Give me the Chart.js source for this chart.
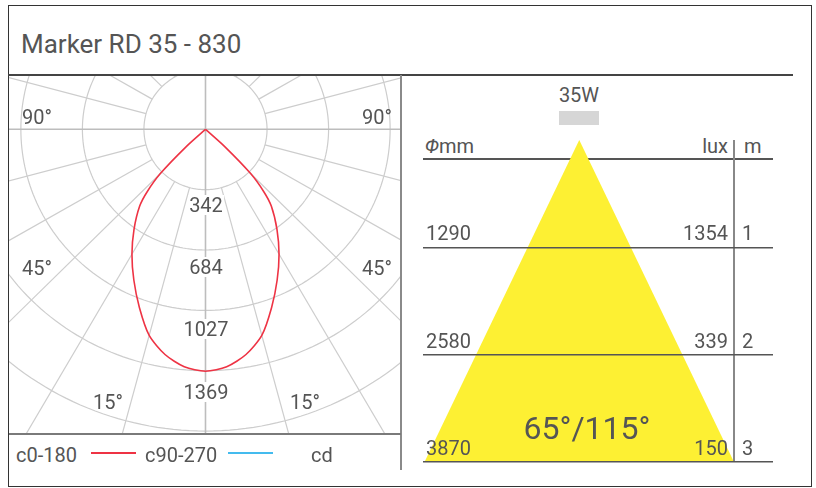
<!DOCTYPE html>
<html>
<head>
<meta charset="utf-8">
<script src="https://cdn.jsdelivr.net/npm/chart.js@4.4.1/dist/chart.umd.min.js"></script>
<style>
body { margin:0; width:816px; height:488px; background:#fff; position:relative; overflow:hidden;
  font-family:Roboto,'Liberation Sans',sans-serif; color:#555; }
.frame { position:absolute; left:8px; top:5px; width:804px; height:482px; border:1.5px solid #333; box-sizing:border-box; }
.t { position:absolute; white-space:nowrap; line-height:1; font-size:20px; transform:translateY(-50%); }
.c { transform:translate(-50%,-50%); }
.bg { background:#fff; padding:0 1px; }
.ln { position:absolute; }
canvas { position:absolute; }
</style>
</head>
<body>
<div class="frame"></div>

<!-- title + panel lines -->
<div class="t" style="left:21px;top:44px;font-size:26px;">Marker RD 35 - 830</div>
<div class="ln" style="left:8px;top:74px;width:785px;height:2px;background:#444;"></div>

<canvas id="polar" width="392" height="358" style="left:9px;top:76px;"></canvas>
<div class="ln" style="left:400px;top:75px;width:2px;height:395px;background:#8a8a8a;"></div>
<div class="ln" style="left:9px;top:433px;width:392px;height:2px;background:#7a7a7a;"></div>

<!-- polar labels -->
<div class="t" style="left:22px;top:117px;">90°</div>
<div class="t" style="right:424px;top:117px;">90°</div>
<div class="t" style="left:22px;top:268px;">45°</div>
<div class="t" style="right:424px;top:268px;">45°</div>
<div class="t" style="left:93px;top:402px;">15°</div>
<div class="t" style="left:290px;top:402px;">15°</div>
<div id="cdLabels"></div>

<!-- legend -->
<div class="t" style="left:16px;top:455px;">c0-180</div>
<div class="ln" style="left:91px;top:452px;width:45px;height:1.5px;background:#ee3344;"></div>
<div class="t" style="left:145px;top:455px;">c90-270</div>
<div class="ln" style="left:228px;top:452px;width:45px;height:1.5px;background:#44bbee;"></div>
<div class="t" style="left:311px;top:455px;">cd</div>

<!-- right panel -->
<div class="t c" style="left:579px;top:95px;">35W</div>
<div class="ln" style="left:559px;top:111px;width:40px;height:14px;background:#d6d6d6;"></div>
<div class="t" style="left:425px;top:146px;"><i>Φ</i>mm</div>
<div class="t" style="right:88px;top:146px;">lux</div>
<div class="t" style="left:744px;top:146px;">m</div>
<div class="ln" style="left:423px;top:158px;width:350px;height:1.5px;background:#555;"></div>
<canvas id="cone" width="370" height="342" style="left:413px;top:130px;"></canvas>
<div id="coneLabels"></div>
<div class="t c" style="left:587px;top:428px;font-size:32px;">65°/115°</div>

<script>
// polar intensity curve, C0-180 plane (deg from nadir -> cd)
const angles = [0, 5, 10, 15, 20, 25, 30, 35, 40, 42.5, 45, 47.5, 50];
const c0_180 = [1372, 1352, 1297, 1210, 1075, 943, 818, 693, 570, 480, 355, 145, 0];
const cdTicks = [342, 684, 1027, 1369];
const cdLabelY = [205, 267, 329, 392];

// light cone table
const distances = [1, 2, 3];
const diameters = [1290, 2580, 3870];
const luxValues = [1354, 339, 150];

const ringStep = cdTicks[cdTicks.length - 1] / cdTicks.length;

// build polar curve points: left branch down, then right branch up
const curve = [];
for (let i = angles.length - 1; i >= 0; i--) {
    const a = angles[i] * Math.PI / 180;
    curve.push({ x: -c0_180[i] * Math.sin(a), y: -c0_180[i] * Math.cos(a) });
}
for (let i = 1; i < angles.length; i++) {
    const a = angles[i] * Math.PI / 180;
    curve.push({ x: c0_180[i] * Math.sin(a), y: -c0_180[i] * Math.cos(a) });
}

const polarGrid = {
    id: 'polarGrid',
    beforeDatasetsDraw(chart) {
        const { ctx, chartArea, scales } = chart;
        const px = v => scales.x.getPixelForValue(v);
        const py = v => scales.y.getPixelForValue(v);
        ctx.save();
        ctx.beginPath();
        ctx.rect(chartArea.left, chartArea.top, chartArea.right - chartArea.left, chartArea.bottom - chartArea.top);
        ctx.clip();
        ctx.strokeStyle = '#cdcdcd';
        ctx.lineWidth = 1.2;
        // rings
        for (let k = 1; k <= 6; k++) {
            const r = k * ringStep;
            ctx.beginPath();
            for (let s = 0; s <= 240; s++) {
                const a = s / 240 * Math.PI * 2;
                const X = px(r * Math.sin(a)), Y = py(-r * Math.cos(a));
                if (s === 0) ctx.moveTo(X, Y); else ctx.lineTo(X, Y);
            }
            ctx.stroke();
        }
        // radial lines every 15 deg
        for (let d = 0; d < 360; d += 15) {
            const a = d * Math.PI / 180;
            const main = d % 90 === 0;
            const r0 = main ? 0 : ringStep;
            ctx.strokeStyle = main ? '#bdbdbd' : '#cdcdcd';
            ctx.lineWidth = main ? 1.6 : 1.2;
            ctx.beginPath();
            ctx.moveTo(px(r0 * Math.sin(a)), py(-r0 * Math.cos(a)));
            ctx.lineTo(px(4000 * Math.sin(a)), py(-4000 * Math.cos(a)));
            ctx.stroke();
        }
        ctx.restore();
    }
};

new Chart(document.getElementById('polar'), {
    type: 'scatter',
    data: {
        datasets: [{
            label: 'c0-180',
            data: curve,
            showLine: true,
            borderColor: '#ee3344',
            borderWidth: 1.6,
            pointRadius: 0,
            tension: 0.25,
            fill: false
        }]
    },
    options: {
        responsive: false,
        animation: false,
        layout: { padding: 0 },
        plugins: { legend: { display: false }, tooltip: { enabled: false } },
        scales: {
            x: { type: 'linear', display: false, min: -1092.7, max: 1087.2 },
            y: { type: 'linear', display: false, min: -1728.1, max: 302.3 }
        }
    },
    plugins: [polarGrid]
});

// cd ring labels
const cdBox = document.getElementById('cdLabels');
cdTicks.forEach((v, i) => {
    const el = document.createElement('div');
    el.className = 't c bg';
    el.style.left = '206px';
    el.style.top = cdLabelY[i] + 'px';
    el.textContent = v;
    cdBox.appendChild(el);
});

// light cone
const maxD = distances[distances.length - 1];
const maxHalf = diameters[diameters.length - 1] / 2;

const cone = new Chart(document.getElementById('cone'), {
    type: 'scatter',
    data: {
        datasets: [{
            label: 'beam',
            data: [{ x: -maxHalf, y: maxD }, { x: 0, y: 0 }, { x: maxHalf, y: maxD }],
            showLine: true,
            borderWidth: 0,
            borderColor: 'rgba(0,0,0,0)',
            backgroundColor: '#fdf033',
            pointRadius: 0,
            fill: { value: maxD }
        }]
    },
    options: {
        responsive: false,
        animation: false,
        layout: { padding: { left: 10, right: 10, top: 10, bottom: 10 } },
        plugins: { legend: { display: false }, tooltip: { enabled: false } },
        scales: {
            x: {
                type: 'linear', min: -1954, max: 2423,
                ticks: { display: false },
                border: { display: false },
                grid: { drawTicks: false, color: '#888', lineWidth: 2, z: 1 },
                afterBuildTicks: s => { s.ticks = [{ value: maxHalf }]; },
                afterFit: s => { s.height = 0; }
            },
            y: {
                type: 'linear', min: 0, max: maxD, reverse: true,
                ticks: { display: false },
                border: { display: false },
                grid: { drawTicks: false, color: '#555', lineWidth: 1.5, z: 1 },
                afterBuildTicks: s => { s.ticks = distances.map(d => ({ value: d })); },
                afterFit: s => { s.width = 0; }
            }
        }
    }
});

// table labels placed from the cone scales
const coneBox = document.getElementById('coneLabels');
const oy = 130;
distances.forEach((d, i) => {
    const y = oy + cone.scales.y.getPixelForValue(d) - 14;
    const a = document.createElement('div');
    a.className = 't';
    a.style.left = '426px'; a.style.top = y + 'px';
    a.textContent = diameters[i];
    const b = document.createElement('div');
    b.className = 't';
    b.style.right = '88px'; b.style.top = y + 'px';
    b.textContent = luxValues[i];
    const c = document.createElement('div');
    c.className = 't';
    c.style.left = '742px'; c.style.top = y + 'px';
    c.textContent = d;
    coneBox.append(a, b, c);
});
</script>
</body>
</html>
